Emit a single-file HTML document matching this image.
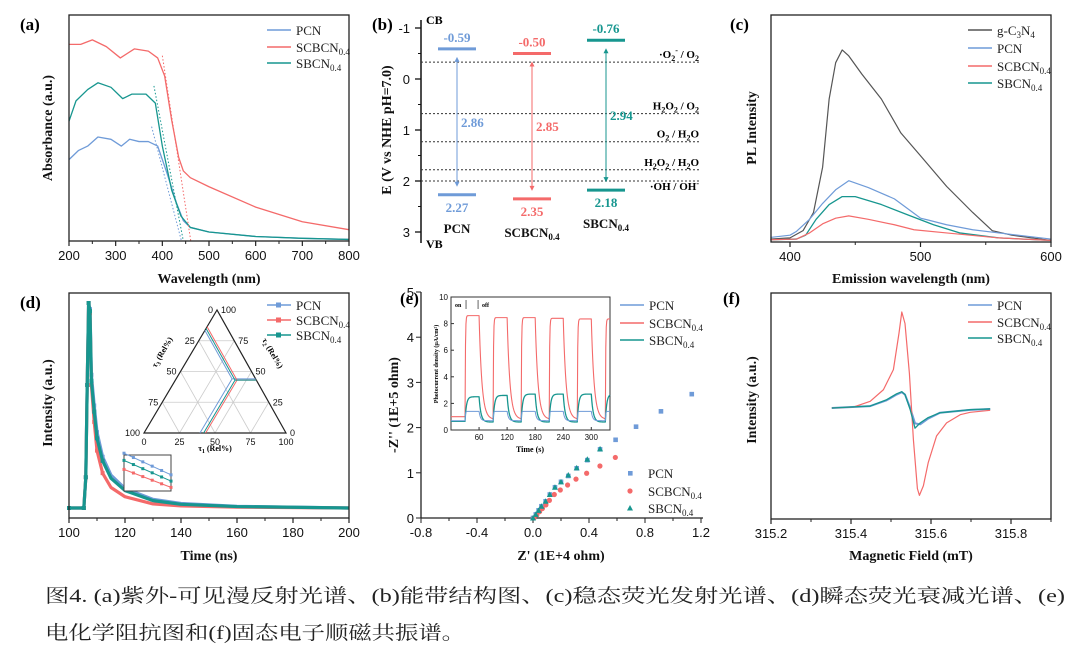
<!DOCTYPE html>
<html><head><meta charset="utf-8">
<style>
html,body{margin:0;padding:0;background:#fff;}
svg{display:block;}
text{font-family:"Liberation Sans",Arial,sans-serif;}
.ser{font-family:"Liberation Serif","Times New Roman",serif;}
.bt{font-family:"Liberation Serif",serif;font-weight:bold;font-size:14px;fill:#111;}
.tk{fill:#111;}
.lg{font-family:"Liberation Serif",serif;font-size:13px;fill:#222;}
</style></head>
<body>
<svg id="fig" width="1080" height="661" viewBox="0 0 1080 661" xmlns="http://www.w3.org/2000/svg"></svg>
<script>
// ---------- DATA ----------
// (a) UV-vis
const aWl = [200,225,250,280,310,340,370,390,405,420,435,445,460,500,600,700,800];
const aSCBCN = [0.87,0.87,0.89,0.86,0.81,0.85,0.84,0.81,0.73,0.535,0.37,0.31,0.28,0.24,0.15,0.085,0.05];
const aWl2 = [200,215,240,262,290,315,335,365,385,400,420,440,460,500,600,700,800];
const aSBCN = [0.53,0.62,0.67,0.70,0.68,0.63,0.65,0.65,0.61,0.42,0.225,0.11,0.06,0.04,0.02,0.012,0.007];
const aWl3 = [200,220,240,262,290,312,330,350,370,390,410,430,445,460,500,600,700,800];
const aPCN = [0.36,0.40,0.42,0.46,0.45,0.42,0.45,0.44,0.44,0.42,0.30,0.17,0.09,0.06,0.04,0.02,0.012,0.007];
// (b) band structure
const bNames = ["PCN","SCBCN","SBCN"];
const bCB = [-0.59,-0.50,-0.76];
const bVB = [2.27,2.35,2.18];
const bGap = ["2.86","2.85","2.94"];
const bLevels = [-0.33,0.68,1.23,1.78,2.0];
const bTicks = [-1,0,1,2,3];
// (c) PL
const cWl = [385,400,410,418,425,430,435,440,445,455,470,485,500,520,540,555,570,600];
const cG = [0.013,0.018,0.05,0.13,0.33,0.63,0.79,0.846,0.82,0.74,0.63,0.48,0.38,0.245,0.13,0.05,0.03,0.007];
const cWlP = [385,400,405,415,425,435,445,460,480,500,505,520,540,560,600];
const cPCN = [0.02,0.03,0.047,0.10,0.17,0.23,0.27,0.24,0.19,0.105,0.098,0.076,0.054,0.04,0.013];
const cWlS = [385,405,412,420,430,440,450,470,490,510,530,560,600];
const cSBCN = [0.01,0.013,0.03,0.10,0.165,0.20,0.20,0.165,0.12,0.076,0.04,0.018,0.007];
const cWlR = [385,405,415,425,435,445,460,480,495,520,560,600];
const cSCBCN = [0.01,0.013,0.04,0.08,0.105,0.115,0.10,0.076,0.054,0.04,0.018,0.007];
// (d) TRPL decay
const dT = [100,105.3,106,106.5,107,107.5,108,109,110,112,115,120,130,140,160,200];
const dPCN = [0,0,0.15,0.6,1.0,0.97,0.65,0.5,0.37,0.25,0.16,0.095,0.042,0.022,0.008,0];
const dSCBCN = [0,0,0.15,0.6,1.0,0.95,0.6,0.42,0.28,0.17,0.10,0.055,0.02,0.01,0.004,0];
const dSBCN = [0,0,0.15,0.6,1.0,0.96,0.62,0.47,0.34,0.23,0.145,0.085,0.036,0.018,0.007,0];
// ternary inset (tau1, tau2, tau3 fractions)
const triPCN = [0.166,0.394,0.44];
const triSCBCN = [0.136,0.434,0.43];
const triSBCN = [0.15,0.42,0.43];
// (e) Nyquist
const ePCNx = [0,0.02,0.04,0.06,0.09,0.12,0.157,0.2,0.252,0.312,0.388,0.479,0.59,0.736,0.914,1.134];
const ePCNy = [0,0.08,0.17,0.26,0.37,0.52,0.68,0.80,0.93,1.10,1.28,1.52,1.73,2.02,2.36,2.74];
const eSBCNx = [0,0.02,0.04,0.06,0.09,0.12,0.157,0.2,0.252,0.312,0.388,0.479];
const eSBCNy = [0,0.08,0.17,0.26,0.37,0.52,0.68,0.80,0.95,1.11,1.30,1.53];
const eSCBCNx = [0,0.02,0.04,0.06,0.085,0.11,0.145,0.188,0.24,0.30,0.376,0.471,0.581];
const eSCBCNy = [0,0.07,0.14,0.21,0.29,0.39,0.52,0.62,0.73,0.86,0.99,1.15,1.34];
// photocurrent inset
const pcOnPCN = [1.4,1.4,1.4,1.4,1.4];
const pcDarkPCN = [0.7,0.7,0.7,0.7,0.7,0.7];
const pcOnSCBCN = [8.6,8.45,8.45,8.4,8.35];
const pcDarkSCBCN = [1.0,0.8,0.8,0.8,0.8,0.8];
const pcOnSBCN = [2.5,2.6,2.7,2.7,2.7];
const pcDarkSBCN = [0.65,0.6,0.6,0.6,0.6,0.6];
// (f) EPR
const fB_R = [315.352,315.406,315.448,315.481,315.506,315.52,315.527,315.535,315.546,315.556,315.566,315.571,315.581,315.593,315.614,315.639,315.673,315.698,315.748];
const fSCBCN = [0,0.01,0.07,0.19,0.4,0.78,1.0,0.88,0.36,-0.33,-0.84,-0.91,-0.81,-0.57,-0.29,-0.155,-0.07,-0.045,-0.024];
const fB_S = [315.352,315.448,315.489,315.514,315.527,315.535,315.548,315.56,315.573,315.593,315.622,315.698,315.748];
const fSBCN = [0,0.02,0.086,0.148,0.17,0.14,-0.017,-0.21,-0.155,-0.10,-0.05,-0.017,-0.01];
const fPCN = [0,0.02,0.08,0.14,0.165,0.14,0.0,-0.16,-0.17,-0.11,-0.05,-0.02,-0.01];

// ---------- HELPERS ----------
const NS="http://www.w3.org/2000/svg";
const svg=document.getElementById('fig');
const BLUE="#6f9bd8", RED="#f46a6a", TEAL="#17968f", GRAY="#555";
function mk(tag,attrs,name,parent){
  const el=document.createElementNS(NS,tag);
  for(const k in attrs) el.setAttribute(k,attrs[k]);
  
  
  (parent||svg).appendChild(el);
  return el;
}
function txt(x,y,s,cls,name,extra){
  const a=Object.assign({x:x,y:y,class:cls},extra||{});
  if(a["font-size"]){a.style=(a.style||"")+"font-size:"+a["font-size"]+"px;";}
  else if(cls==="tk"){a.style=(a.style||"")+"font-size:13px;";}
  const t=mk('text',a,name);
  t.innerHTML=s;
  return t;
}
function lin(d0,d1,r0,r1){return v=>r0+(v-d0)*(r1-r0)/(d1-d0);}
function path(xs,ys,sx,sy,color,w,name,extra){
  let d="";
  for(let i=0;i<xs.length;i++) d+=(i?"L":"M")+sx(xs[i]).toFixed(2)+" "+sy(ys[i]).toFixed(2);
  return mk('path',Object.assign({d:d,fill:"none",stroke:color,"stroke-width":w,"stroke-linejoin":"round"},extra||{}),name);
}
function box(x0,y0,x1,y1,name){mk('rect',{x:x0,y:y0,width:x1-x0,height:y1-y0,fill:"none",stroke:"#222","stroke-width":1.3},name);}
function xticks(vals,sx,y,name,minor){
  vals.forEach(v=>{
    mk('line',{x1:sx(v),x2:sx(v),y1:y,y2:y+5,stroke:"#222","stroke-width":1.2},name+'-tick');
    txt(sx(v),y+19,String(v),"tk",name+'-label',{"text-anchor":"middle"});
  });
  (minor||[]).forEach(v=>mk('line',{x1:sx(v),x2:sx(v),y1:y,y2:y+3,stroke:"#222","stroke-width":1},name+'-minor-tick'));
}
function legendLine(x,y,color,label,name){
  mk('line',{x1:x,x2:x+24,y1:y,y2:y,stroke:color,"stroke-width":1.6},name+'-swatch');
  txt(x+29,y+5,label,"lg",name);
}
const SUB=s=>'<tspan font-size="9" dy="3">'+s+'</tspan>';
function panelLabel(x,y,s,name){txt(x,y,s,"ser",name,{"font-size":17,"font-weight":"bold"});}
function ylab(x,y,s,name){txt(x,y,s,"bt",name,{"text-anchor":"middle",transform:"rotate(-90 "+x+" "+y+")"});}

// ---------- (a) ----------
(function(){
  const sx=lin(200,800,69,349), sy=lin(0,1,241,15);
  panelLabel(20,30,"(a)","panel-label-a");
  path(aWl3,aPCN,sx,sy,BLUE,1.3,"series-a-pcn");
  path(aWl,aSCBCN,sx,sy,RED,1.3,"series-a-scbcn");
  path(aWl2,aSBCN,sx,sy,TEAL,1.3,"series-a-sbcn");
  mk('line',{x1:sx(400),y1:sy(0.82),x2:sx(461),y2:sy(0),stroke:RED,"stroke-dasharray":"1.5 2","stroke-width":1},"tangent-a-scbcn");
  mk('line',{x1:sx(382),y1:sy(0.686),x2:sx(445),y2:sy(0),stroke:TEAL,"stroke-dasharray":"1.5 2","stroke-width":1},"tangent-a-sbcn");
  mk('line',{x1:sx(377),y1:sy(0.506),x2:sx(441),y2:sy(0),stroke:BLUE,"stroke-dasharray":"1.5 2","stroke-width":1},"tangent-a-pcn");
  box(69,15,349,241,"plot-frame-a");
  xticks([200,300,400,500,600,700,800],sx,241,"x-axis-a",[250,350,450,550,650,750]);
  txt(209,283,"Wavelength (nm)","bt","x-axis-title-a",{"text-anchor":"middle"});
  ylab(52,128,"Absorbance (a.u.)","y-axis-title-a");
  legendLine(267,30,BLUE,"PCN","legend-a-pcn");
  legendLine(267,47,RED,"SCBCN"+SUB("0.4"),"legend-a-scbcn");
  legendLine(267,63,TEAL,"SBCN"+SUB("0.4"),"legend-a-sbcn");
})();

// ---------- (b) ----------
(function(){
  const sy=lin(0,1,79,130);
  panelLabel(372,30,"(b)","panel-label-b");
  mk('line',{x1:421,x2:421,y1:20,y2:243,stroke:"#111","stroke-width":1.5},"y-axis-b");
  bTicks.forEach(v=>{
    mk('line',{x1:415,x2:421,y1:sy(v),y2:sy(v),stroke:"#111","stroke-width":1.3},"y-tick-b");
    txt(410,sy(v)+5,String(v),"tk","y-tick-label-b",{"text-anchor":"end"});
  });
  [-0.5,0.5,1.5,2.5].forEach(v=>mk('line',{x1:418,x2:421,y1:sy(v),y2:sy(v),stroke:"#111","stroke-width":1},"y-minor-tick-b"));
  txt(426,24,"CB","ser","cb-label",{"font-size":12,"font-weight":"bold"});
  txt(426,248,"VB","ser","vb-label",{"font-size":12,"font-weight":"bold"});
  ylab(391,130,"E (V vs NHE pH=7.0)","y-axis-title-b");
  const lvlLab=['·O<tspan font-size="8" dy="3">2</tspan><tspan font-size="8" dy="-8">-</tspan><tspan dy="5"> / O</tspan><tspan font-size="8" dy="3">2</tspan>',
    'H<tspan font-size="8" dy="3">2</tspan><tspan dy="-3">O</tspan><tspan font-size="8" dy="3">2</tspan><tspan dy="-3"> / O</tspan><tspan font-size="8" dy="3">2</tspan>',
    'O<tspan font-size="8" dy="3">2</tspan><tspan dy="-3"> / H</tspan><tspan font-size="8" dy="3">2</tspan><tspan dy="-3">O</tspan>',
    'H<tspan font-size="8" dy="3">2</tspan><tspan dy="-3">O</tspan><tspan font-size="8" dy="3">2</tspan><tspan dy="-3"> / H</tspan><tspan font-size="8" dy="3">2</tspan><tspan dy="-3">O</tspan>',
    '·OH / OH<tspan font-size="8" dy="-4">-</tspan>'];
  bLevels.forEach((v,i)=>{
    mk('line',{x1:421,x2:700,y1:sy(v),y2:sy(v),stroke:"#333","stroke-width":1,"stroke-dasharray":"2 2"},"redox-level-line");
    const ly = (i===4) ? sy(v)+9 : sy(v)-4;
    txt(699,ly,lvlLab[i],"ser","redox-level-label",{"text-anchor":"end","font-size":11,"font-weight":"bold"});
  });
  const cols=[BLUE,RED,TEAL], cx=[457,532,606];
  const subs=["PCN","SCBCN"+SUB("0.4"),"SBCN"+SUB("0.4")];
  bNames.forEach((n,i)=>{
    const x0=cx[i]-19,x1=cx[i]+19;
    mk('line',{x1:x0,x2:x1,y1:sy(bCB[i]),y2:sy(bCB[i]),stroke:cols[i],"stroke-width":3},"cb-bar-"+n.toLowerCase());
    mk('line',{x1:x0,x2:x1,y1:sy(bVB[i]),y2:sy(bVB[i]),stroke:cols[i],"stroke-width":3},"vb-bar-"+n.toLowerCase());
    txt(cx[i],sy(bCB[i])-7,bCB[i].toFixed(2),"ser","cb-value-"+n.toLowerCase(),{"text-anchor":"middle","font-size":13,"font-weight":"bold",fill:cols[i]});
    txt(cx[i],sy(bVB[i])+17,bVB[i].toFixed(2),"ser","vb-value-"+n.toLowerCase(),{"text-anchor":"middle","font-size":13,"font-weight":"bold",fill:cols[i]});
    const ya=sy(bCB[i])+8, yb=sy(bVB[i])-8;
    mk('line',{x1:cx[i],x2:cx[i],y1:ya+3,y2:yb-3,stroke:cols[i],"stroke-width":1},"gap-arrow-"+n.toLowerCase());
    mk('path',{d:`M${cx[i]-2.5} ${ya+5}L${cx[i]} ${ya}L${cx[i]+2.5} ${ya+5}Z M${cx[i]-2.5} ${yb-5}L${cx[i]} ${yb}L${cx[i]+2.5} ${yb-5}Z`,fill:cols[i]},"gap-arrowheads-"+n.toLowerCase());
    txt(cx[i]+4,sy((bCB[i]+bVB[i])/2)+5,bGap[i],"ser","gap-value-"+n.toLowerCase(),{"font-size":13,"font-weight":"bold",fill:cols[i]});
    txt(cx[i],sy(bVB[i])+38,subs[i],"ser","sample-name-"+n.toLowerCase(),{"text-anchor":"middle","font-size":13,"font-weight":"bold",fill:"#111"});
  });
})();

// ---------- (c) ----------
(function(){
  const sx=lin(400,600,790,1051), sy=lin(0,1,242,15);
  panelLabel(730,30,"(c)","panel-label-c");
  path(cWl,cG,sx,sy,GRAY,1.2,"series-c-gc3n4");
  path(cWlP,cPCN,sx,sy,BLUE,1.2,"series-c-pcn");
  path(cWlS,cSBCN,sx,sy,TEAL,1.3,"series-c-sbcn");
  path(cWlR,cSCBCN,sx,sy,RED,1.2,"series-c-scbcn");
  box(771,15,1051,242,"plot-frame-c");
  xticks([400,500,600],sx,242,"x-axis-c",[450,550]);
  txt(911,283,"Emission wavelength (nm)","bt","x-axis-title-c",{"text-anchor":"middle"});
  ylab(756,128,"PL Intensity","y-axis-title-c");
  legendLine(968,30,GRAY,'g-C'+SUB("3")+'<tspan dy="-3">N</tspan>'+SUB("4"),"legend-c-gc3n4");
  legendLine(968,48,BLUE,"PCN","legend-c-pcn");
  legendLine(968,66,RED,"SCBCN"+SUB("0.4"),"legend-c-scbcn");
  legendLine(968,83,TEAL,"SBCN"+SUB("0.4"),"legend-c-sbcn");
})();

// ---------- (d) ----------
(function(){
  const sx=lin(100,200,69,349), sy=lin(0,1,508,303);
  panelLabel(20,308,"(d)","panel-label-d");
  const ser=[[dPCN,BLUE,"pcn"],[dSCBCN,RED,"scbcn"],[dSBCN,TEAL,"sbcn"]];
  ser.forEach(s=>{
    path(dT,s[0],sx,sy,s[1],3.2,"series-d-"+s[2]);
    dT.forEach((t,i)=>{ if(t<=112) mk('rect',{x:sx(t)-2,y:sy(s[0][i])-2,width:4,height:4,fill:s[1]},"marker-d-"+s[2]); });
  });
  const A=[217,310],B=[144,433],C=[286,433];
  const P=(wb,wc,wa)=>[wa*A[0]+wb*B[0]+wc*C[0], wa*A[1]+wb*B[1]+wc*C[1]];
  [0.25,0.5,0.75].forEach(f=>{
    let p1=P(1-f,0,f),p2=P(0,1-f,f); mk('line',{x1:p1[0],y1:p1[1],x2:p2[0],y2:p2[1],stroke:"#ccc","stroke-width":0.8},"ternary-grid");
    p1=P(f,0,1-f);p2=P(f,1-f,0); mk('line',{x1:p1[0],y1:p1[1],x2:p2[0],y2:p2[1],stroke:"#ccc","stroke-width":0.8},"ternary-grid");
    p1=P(0,f,1-f);p2=P(1-f,f,0); mk('line',{x1:p1[0],y1:p1[1],x2:p2[0],y2:p2[1],stroke:"#ccc","stroke-width":0.8},"ternary-grid");
  });
  mk('path',{d:`M${A[0]} ${A[1]}L${B[0]} ${B[1]}L${C[0]} ${C[1]}Z`,fill:"none",stroke:"#222","stroke-width":1.2},"ternary-frame");
  [[triPCN,BLUE,"pcn"],[triSCBCN,RED,"scbcn"],[triSBCN,TEAL,"sbcn"]].forEach(s=>{
    const [wb,wc,wa]=s[0];
    const c=P(wb,wc,wa), r=P(0,1-wa,wa), l=P(wb,0,1-wb), b=P(1-wc,wc,0);
    mk('path',{d:`M${l[0]} ${l[1]}L${c[0]} ${c[1]}L${r[0]} ${r[1]}M${c[0]} ${c[1]}L${b[0]} ${b[1]}`,fill:"none",stroke:s[1],"stroke-width":1},"ternary-line-"+s[2]);
  });
  [0,25,50,75,100].forEach(v=>{
    const f=v/100;
    let p=P(1-f,f,0); txt(p[0],p[1]+12,v,"tk","ternary-bottom-label",{"text-anchor":"middle","font-size":9});
    p=P(0,1-f,f); txt(p[0]+4,p[1]+3,v,"tk","ternary-right-label",{"font-size":9});
    p=P(f,0,1-f); txt(p[0]-4,p[1]+3,v,"tk","ternary-left-label",{"text-anchor":"end","font-size":9});
  });
  txt(215,451,'τ<tspan font-size="6" dy="2">1</tspan><tspan dy="-2"> (Rel%)</tspan>',"ser","ternary-tau1-title",{"text-anchor":"middle","font-size":8,"font-weight":"bold"});
  txt(156,368,'τ<tspan font-size="6" dy="2">3</tspan><tspan dy="-2"> (Rel%)</tspan>',"ser","ternary-tau3-title",{"font-size":8,"font-weight":"bold",transform:"rotate(-60 156 368)"});
  txt(262,340,'τ<tspan font-size="6" dy="2">2</tspan><tspan dy="-2"> (Rel%)</tspan>',"ser","ternary-tau2-title",{"font-size":8,"font-weight":"bold",transform:"rotate(60 262 340)"});
  mk('rect',{x:124,y:455,width:47,height:36,fill:"#fff",stroke:"#444","stroke-width":1},"zoom-inset-frame");
  const zx=lin(112,118,124,171), zy=lin(0.08,0.28,491,455);
  [[dPCN,BLUE,"pcn",0.04],[dSBCN,TEAL,"sbcn",0.02],[dSCBCN,RED,"scbcn",0.03]].forEach(s=>{
    const v1=s[0][9]+s[3], v2=s[0][10]+s[3];
    mk('line',{x1:zx(112),y1:zy(v1),x2:zx(118),y2:zy(v2-0.03),stroke:s[1],"stroke-width":1},"zoom-inset-line-"+s[2]);
    for(let k=0;k<=5;k++){const tt=112+k*1.2; const vv=v1+(v2-0.03-v1)*k/5; mk('rect',{x:zx(tt)-1.5,y:zy(vv)-1.5,width:3,height:3,fill:s[1]},"zoom-inset-marker-"+s[2]);}
  });
  box(69,293,349,518,"plot-frame-d");
  xticks([100,120,140,160,180,200],sx,518,"x-axis-d",[110,130,150,170,190]);
  txt(209,560,"Time (ns)","bt","x-axis-title-d",{"text-anchor":"middle"});
  ylab(52,403,"Intensity (a.u.)","y-axis-title-d");
  function legM(y,col,lab,name){mk('line',{x1:267,x2:291,y1:y,y2:y,stroke:col,"stroke-width":1.6},name+'-swatch');mk('rect',{x:276,y:y-2.5,width:5,height:5,fill:col},name+'-marker');txt(296,y+5,lab,"lg",name);}
  legM(305,BLUE,"PCN","legend-d-pcn");legM(320,RED,"SCBCN"+SUB("0.4"),"legend-d-scbcn");legM(335,TEAL,"SBCN"+SUB("0.4"),"legend-d-sbcn");
})();

// ---------- (e) ----------
(function(){
  const sx=lin(-0.8,1.2,421,701), sy=lin(0,5,518,292);
  txt(400,304,"(e)","ser","panel-label-e",{"font-size":17,"font-weight":"bold"});
  mk('line',{x1:421,x2:421,y1:292,y2:518,stroke:"#222","stroke-width":1.3},"y-axis-e");
  mk('line',{x1:421,x2:703,y1:518,y2:518,stroke:"#222","stroke-width":1.3},"x-axis-e");
  [0,1,2,3,4,5].forEach(v=>{mk('line',{x1:416,x2:421,y1:sy(v),y2:sy(v),stroke:"#222"},"y-tick-e");txt(414,sy(v)+5,v,"tk","y-tick-label-e",{"text-anchor":"end"});});
  [-0.8,-0.4,0.0,0.4,0.8,1.2].forEach(v=>{mk('line',{x1:sx(v),x2:sx(v),y1:518,y2:523,stroke:"#222"},"x-tick-e");txt(sx(v),537,v.toFixed(1),"tk","x-tick-label-e",{"text-anchor":"middle"});});
  [-0.6,-0.2,0.2,0.6,1.0].forEach(v=>mk('line',{x1:sx(v),x2:sx(v),y1:518,y2:521,stroke:"#222"},"x-minor-tick-e"));
  txt(561,560,"Z' (1E+4  ohm)","bt","x-axis-title-e",{"text-anchor":"middle"});
  ylab(398,405,"-Z'' (1E+5  ohm)","y-axis-title-e");
  ePCNx.forEach((x,i)=>mk('rect',{x:sx(x)-2.3,y:sy(ePCNy[i])-2.3,width:4.6,height:4.6,fill:BLUE},"point-e-pcn"));
  eSCBCNx.forEach((x,i)=>mk('circle',{cx:sx(x)+1,cy:sy(eSCBCNy[i]),r:2.6,fill:RED},"point-e-scbcn"));
  eSBCNx.forEach((x,i)=>{const X=sx(x),Y=sy(eSBCNy[i]);mk('path',{d:`M${X} ${Y-3}L${X+3} ${Y+2.5}L${X-3} ${Y+2.5}Z`,fill:TEAL},"point-e-sbcn");});
  mk('rect',{x:628,y:471,width:4.6,height:4.6,fill:BLUE},"legend-e-pcn-marker");txt(648,478,"PCN","lg","legend-e-pcn");
  mk('circle',{cx:630,cy:491,r:2.6,fill:RED},"legend-e-scbcn-marker");txt(648,496,"SCBCN"+SUB("0.4"),"lg","legend-e-scbcn");
  mk('path',{d:"M630 505L633 510.5L627 510.5Z",fill:TEAL},"legend-e-sbcn-marker");txt(648,513,"SBCN"+SUB("0.4"),"lg","legend-e-sbcn");
  const px=lin(0,340,451,610), py=lin(0,10,430,297);
  mk('rect',{x:451,y:297,width:159,height:133,fill:"#fff",stroke:"#333","stroke-width":1},"photocurrent-inset-frame");
  function pc(on,dark,tau1,tau2){
    const xs=[],ys=[];
    for(let t=0;t<=340;t+=1){
      let k=Math.floor((t-30)/60), ph=(t-30)-k*60, v;
      if(t<30){v=dark[0];}
      else if(ph<30){const prev=(k>0)?dark[k]:dark[0]; v=on[Math.min(k,on.length-1)]-(on[Math.min(k,on.length-1)]-prev)*Math.exp(-ph/tau1);}
      else {const d=dark[Math.min(k+1,dark.length-1)]; const o=on[Math.min(k,on.length-1)]; v=d+(o-d)*Math.exp(-(ph-30)/tau2);}
      xs.push(t);ys.push(v);
    }
    return [xs,ys];
  }
  let s=pc(pcOnSCBCN,pcDarkSCBCN,0.8,6); path(s[0],s[1],px,py,RED,1.1,"photocurrent-scbcn");
  s=pc(pcOnSBCN,pcDarkSBCN,3,4); path(s[0],s[1],px,py,TEAL,1.3,"photocurrent-sbcn");
  s=pc(pcOnPCN,pcDarkPCN,0.8,3); path(s[0],s[1],px,py,BLUE,1,"photocurrent-pcn");
  [0,2,4,6,8,10].forEach(v=>{mk('line',{x1:451,x2:454,y1:py(v),y2:py(v),stroke:"#333"},"inset-y-tick");txt(448,py(v)+3,v,"tk","inset-y-label",{"text-anchor":"end","font-size":8});});
  [60,120,180,240,300].forEach(v=>{mk('line',{x1:px(v),x2:px(v),y1:430,y2:427,stroke:"#333"},"inset-x-tick");txt(px(v),440,v,"tk","inset-x-label",{"text-anchor":"middle","font-size":8});});
  txt(530,452,"Time (s)","ser","inset-x-title",{"text-anchor":"middle","font-size":8,"font-weight":"bold"});
  txt(438,364,"Photocurrent density (μA/cm²)","ser","inset-y-title",{"text-anchor":"middle","font-size":6,"font-weight":"bold",transform:"rotate(-90 438 364)"});
  txt(455,307,"on","ser","on-label",{"font-size":6,"font-weight":"bold"});
  txt(482,307,"off","ser","off-label",{"font-size":6,"font-weight":"bold"});
  mk('line',{x1:px(30)+1,x2:px(30)+1,y1:309,y2:300,stroke:"#222","stroke-width":0.7},"on-arrow");
  mk('line',{x1:px(60)-1,x2:px(60)-1,y1:300,y2:309,stroke:"#222","stroke-width":0.7},"off-arrow");
  legendLine(620,305,BLUE,"PCN","legend-e-inset-pcn");
  legendLine(620,323,RED,"SCBCN"+SUB("0.4"),"legend-e-inset-scbcn");
  legendLine(620,340,TEAL,"SBCN"+SUB("0.4"),"legend-e-inset-sbcn");
})();

// ---------- (f) ----------
(function(){
  const sx=lin(315.2,315.9,771,1051), sy=lin(0,1,408,312);
  panelLabel(723,304,"(f)","panel-label-f");
  path(fB_S,fPCN,sx,sy,BLUE,2,"series-f-pcn");
  path(fB_R,fSCBCN,sx,sy,RED,1.2,"series-f-scbcn");
  path(fB_S,fSBCN,sx,sy,TEAL,1.3,"series-f-sbcn");
  box(771,293,1051,519,"plot-frame-f");
  xticks([315.2,315.4,315.6,315.8],sx,519,"x-axis-f",[315.3,315.5,315.7,315.9]);
  txt(911,560,"Magnetic Field (mT)","bt","x-axis-title-f",{"text-anchor":"middle"});
  ylab(756,400,"Intensity (a.u.)","y-axis-title-f");
  legendLine(968,305,BLUE,"PCN","legend-f-pcn");
  legendLine(968,322,RED,"SCBCN"+SUB("0.4"),"legend-f-scbcn");
  legendLine(968,338,TEAL,"SBCN"+SUB("0.4"),"legend-f-sbcn");
})();

// ---------- caption ----------
(function(){
  const c1=mk('text',{x:45,y:602,"font-size":19,fill:"#222",textLength:1020,lengthAdjust:"spacingAndGlyphs",style:'font-family:"Liberation Serif","Noto Serif CJK SC",serif'},"caption-line-1");
  c1.textContent="图4. (a)紫外-可见漫反射光谱、(b)能带结构图、(c)稳态荧光发射光谱、(d)瞬态荧光衰减光谱、(e)";
  const c2=mk('text',{x:45,y:639,"font-size":19,fill:"#222",textLength:420,lengthAdjust:"spacingAndGlyphs",style:'font-family:"Liberation Serif","Noto Serif CJK SC",serif'},"caption-line-2");
  c2.textContent="电化学阻抗图和(f)固态电子顺磁共振谱。";
})();
</script>
</body></html>
